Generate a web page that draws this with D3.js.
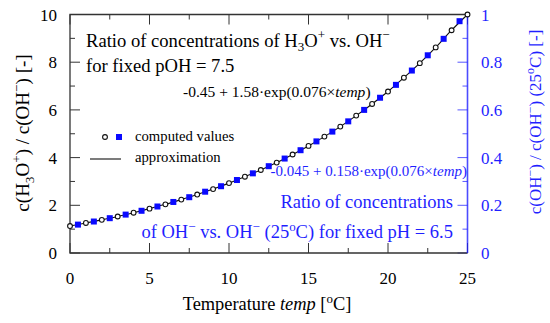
<!DOCTYPE html>
<html>
<head>
<meta charset="utf-8">
<script src="https://cdn.jsdelivr.net/npm/d3@7"></script>
<style>
  body { margin: 0; background: #fff; }
  svg { font-family: "Liberation Serif", "Times New Roman", serif; }
</style>
</head>
<body>
<svg id="chart" width="550" height="323"></svg>
<script>
// computed values, H3O+/OH- ratio at fixed pOH (left axis)
const circleTemps = [0,1,2,3,4,5,6,7,8,9,10,11,12,13,14,15,16,17,18,19,20,21,22,23,24,25]
const circleVals = [1.13,1.26,1.39,1.53,1.69,1.86,2.04,2.24,2.45,2.68,2.93,3.20,3.48,3.79,4.13,4.49,4.88,5.30,5.76,6.25,6.77,7.35,7.96,8.62,9.34,10.0]
// computed values, OH-/OH-(25C) at fixed pH (right axis)
const squareTemps = [0.5,1.5,2.5,3.5,4.5,5.5,6.5,7.5,8.5,9.5,10.5,11.5,12.5,13.5,14.5,15.5,16.5,17.5,18.5,19.5,20.5,21.5,22.5,23.5,24.5]
const squareVals = [0.119,0.132,0.146,0.161,0.177,0.195,0.214,0.234,0.257,0.280,0.306,0.334,0.364,0.396,0.431,0.468,0.509,0.552,0.600,0.651,0.705,0.765,0.829,0.898,0.972]
const xTicks = [0,5,10,15,20,25]
const yLeftTicks = [0,2,4,6,8,10]
const yRightTicks = [0,0.2,0.4,0.6,0.8,1]

const blue = "#1f1fff"
const axisCol = "#333"
const svg = d3.select("#chart")
const m = {left: 70, right: 467.5, top: 14.5, bottom: 253}

const x = d3.scaleLinear().domain([0,25]).range([m.left, m.right])
const yL = d3.scaleLinear().domain([0,10]).range([m.bottom, m.top])
const yR = d3.scaleLinear().domain([0,1]).range([m.bottom, m.top])

// ticks, all pointing inward
const minorX = d3.range(0, 25.01, 2.5)
const minorY = d3.range(0, 10.01, 1)
const minorYR = d3.range(0, 1.001, 0.1)
const isMajX = v => Math.abs(v % 5) < 1e-6
const isMajY = v => Math.abs(v % 2) < 1e-6
const tickG = svg.append("g").attr("stroke", axisCol).attr("stroke-width", 1)
minorX.forEach(v => {
  const len = isMajX(v) ? 10 : 5
  tickG.append("line").attr("x1", x(v)).attr("x2", x(v)).attr("y1", m.bottom).attr("y2", m.bottom - len)
  tickG.append("line").attr("x1", x(v)).attr("x2", x(v)).attr("y1", m.top).attr("y2", m.top + len)
})
minorY.forEach(v => {
  const len = isMajY(v) ? 10 : 5
  tickG.append("line").attr("x1", m.left).attr("x2", m.left + len).attr("y1", yL(v)).attr("y2", yL(v))
})
minorYR.forEach((v, i) => {
  const len = i % 2 == 0 ? 10 : 5
  svg.append("line").attr("stroke", blue).attr("stroke-opacity", 0.75)
    .attr("x1", m.right).attr("x2", m.right - len).attr("y1", yR(v)).attr("y2", yR(v))
})

// frame
svg.append("path").attr("fill", "none").attr("stroke", axisCol).attr("stroke-width", 1.3)
  .attr("d", `M${m.right},${m.top}H${m.left}V${m.bottom}H${m.right}`)
svg.append("line").attr("stroke", blue).attr("stroke-opacity", 0.8).attr("stroke-width", 1.6)
  .attr("x1", m.right).attr("x2", m.right).attr("y1", m.top).attr("y2", m.bottom)

// tick labels
svg.append("g").selectAll("text").data(xTicks).join("text")
  .attr("x", d => x(d)).attr("y", 284).attr("text-anchor", "middle")
  .attr("font-size", 17).text(d => d)
svg.append("g").selectAll("text").data(yLeftTicks).join("text")
  .attr("x", 57).attr("y", d => yL(d) + 6).attr("text-anchor", "end")
  .attr("font-size", 17).text(d => d)
svg.append("g").selectAll("text").data(yRightTicks).join("text")
  .attr("x", 481).attr("y", d => yR(d) + 6).attr("text-anchor", "start")
  .attr("font-size", 17).attr("fill", blue).text(d => d)

// approximation line
const pts = circleTemps.map((t, i) => [x(t), yL(circleVals[i])])
svg.append("path").attr("fill", "none").attr("stroke", "#111").attr("stroke-width", 1.1)
  .attr("d", d3.line().curve(d3.curveCatmullRom)(pts))

// markers
svg.append("g").selectAll("rect").data(squareTemps).join("rect")
  .attr("x", (d) => x(d) - 3).attr("y", (d, i) => yR(squareVals[i]) - 3)
  .attr("width", 6).attr("height", 6).attr("fill", "#0a0aff")
svg.append("g").selectAll("circle").data(circleTemps).join("circle")
  .attr("cx", d => x(d)).attr("cy", (d, i) => yL(circleVals[i]))
  .attr("r", 2.4).attr("fill", "#fff").attr("stroke", "#111").attr("stroke-width", 1.1)

// helper for rich text: parts [str, kind]
function rich(sel, parts, size) {
  parts.forEach(([s, k]) => {
    const t = sel.append("tspan").text(s)
    if (k == "sub") t.attr("font-size", size * 0.7).attr("dy", size * 0.25)
    if (k == "sup") t.attr("font-size", size * 0.7).attr("dy", -size * 0.4)
    if (k == "i") t.attr("font-style", "italic")
    if (k == "subEnd") t.attr("dy", -size * 0.25)
    if (k == "supEnd") t.attr("dy", size * 0.4)
  })
}

// titles in plot
const t1 = svg.append("text").attr("x", 86).attr("y", 46.5).attr("font-size", 18.6)
rich(t1, [["Ratio of concentrations of H","n"],["3","sub"],["O","subEnd"],["+","sup"],[" vs. OH","supEnd"],["\u2212","sup"]], 18.6)
svg.append("text").attr("x", 86).attr("y", 71.5).attr("font-size", 18.6).text("for fixed pOH = 7.5")

const f1 = svg.append("text").attr("x", 183).attr("y", 97).attr("font-size", 15.5)
rich(f1, [["-0.45 + 1.58\u00b7exp(0.076\u00d7","n"],["temp","i"],[")","n"]], 15.5)

const f2 = svg.append("text").attr("x", 467).attr("y", 176).attr("font-size", 15)
  .attr("text-anchor", "end").attr("fill", blue)
rich(f2, [["-0.045 + 0.158\u00b7exp(0.076\u00d7","n"],["temp","i"],[")","n"]], 15)

svg.append("text").attr("x", 453).attr("y", 208).attr("font-size", 18.5)
  .attr("text-anchor", "end").attr("fill", blue).text("Ratio of concentrations")
const t2 = svg.append("text").attr("x", 453).attr("y", 238).attr("font-size", 18.5)
  .attr("text-anchor", "end").attr("fill", blue)
rich(t2, [["of OH","n"],["\u2212","sup"],[" vs. OH","supEnd"],["\u2212","sup"],[" (25","supEnd"],["o","sup"],["C) for fixed pH = 6.5","supEnd"]], 18.5)

// legend
svg.append("circle").attr("cx", 105).attr("cy", 137).attr("r", 2.4)
  .attr("fill", "#fff").attr("stroke", "#111").attr("stroke-width", 1.1)
svg.append("rect").attr("x", 116).attr("y", 134).attr("width", 6).attr("height", 6).attr("fill", "#0a0aff")
svg.append("text").attr("x", 135).attr("y", 141).attr("font-size", 14.7).text("computed values")
svg.append("line").attr("x1", 90).attr("x2", 121).attr("y1", 159).attr("y2", 159)
  .attr("stroke", "#111").attr("stroke-width", 1.1)
svg.append("text").attr("x", 135).attr("y", 162).attr("font-size", 14.7).text("approximation")

// axis titles
const xt = svg.append("text").attr("x", 267).attr("y", 310).attr("font-size", 18.4).attr("text-anchor", "middle")
rich(xt, [["Temperature ","n"],["temp","i"],[" [","n"],["o","sup"],["C]","supEnd"]], 18.4)

const yt = svg.append("text").attr("transform", "translate(29,133) rotate(-90)")
  .attr("font-size", 19).attr("text-anchor", "middle")
rich(yt, [["c(H","n"],["3","sub"],["O","subEnd"],["+","sup"],[") / c(OH","supEnd"],["\u2212","sup"],[") [-]","supEnd"]], 19)

const yt2 = svg.append("text").attr("transform", "translate(541,122) rotate(-90)")
  .attr("font-size", 17).attr("text-anchor", "middle").attr("fill", blue)
rich(yt2, [["c(OH","n"],["\u2212","sup"],[") / c(OH","supEnd"],["\u2212","sup"],[") (25","supEnd"],["o","sup"],["C) [-]","supEnd"]], 17)
</script>
</body>
</html>
